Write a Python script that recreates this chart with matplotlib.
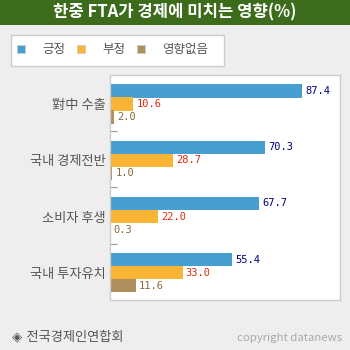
import numpy as np
import matplotlib.pyplot as plt
from matplotlib.patches import Rectangle

plt.rcParams['font.family'] = ['Noto Sans CJK KR', 'DejaVu Sans']

# 데이터
categories = ['對中 수출', '국내 경제전반', '소비자 후생', '국내 투자유치']
positive = [87.4, 70.3, 67.7, 55.4]
negative = [10.6, 28.7, 22.0, 33.0]
no_effect = [2.0, 1.0, 0.3, 11.6]
series_names = ['긍정', '부정', '영향없음']

bar_colors = ['#469fd0', '#fbb536', '#b08f5e']
text_colors = ['#000080', '#e8280c', '#8a6a3a']

W, H = 350, 350
fig = plt.figure(figsize=(3.5, 3.5), dpi=100, facecolor='#eeeeee')


def px_rect(x, y, w, h):
    """픽셀 좌표(좌상단 기준)를 figure 좌표로 변환"""
    return [x / W, 1 - (y + h) / H, w / W, h / H]


# 제목 바
fig.patches.append(Rectangle((0, 1 - 25 / H), 1, 25 / H, transform=fig.transFigure,
                             facecolor='#3b6b1b', edgecolor='none', zorder=0))
fig.text(0.5, 1 - 12.5 / H, '한중 FTA가 경제에 미치는 영향(%)', color='white',
         fontsize=12, fontweight='bold', ha='center', va='center')

# 범례 박스
lx, ly, lw, lh = 10.5, 35, 213.5, 31
fig.patches.append(Rectangle((lx / W, 1 - (ly + lh) / H), lw / W, lh / H,
                             transform=fig.transFigure, facecolor='white',
                             edgecolor='#cccccc', linewidth=1, zorder=0))
leg_x = [17, 77, 137]
for i, name in enumerate(series_names):
    fig.patches.append(Rectangle((leg_x[i] / W, 1 - 53 / H), 8 / W, 8 / H,
                                 transform=fig.transFigure, facecolor=bar_colors[i],
                                 edgecolor='#cccccc', linewidth=0.6, zorder=1))
    fig.text((leg_x[i] + 25) / W, 1 - 49.5 / H, name, color='#555555',
             fontsize=9, ha='left', va='center')

# 차트 영역
ax = fig.add_axes(px_rect(110, 75, 230, 225))
ax.set_facecolor('white')
for s in ax.spines.values():
    s.set_color('#cccccc')
    s.set_linewidth(1)

idx = np.arange(len(categories))
h = 0.235
offsets = [0.284, 0.516, 0.748]
series = [positive, negative, no_effect]
for k, vals in enumerate(series):
    ypos = idx + offsets[k]
    ax.barh(ypos, vals, height=h, color=bar_colors[k], edgecolor='none')
    for y, v in zip(ypos, vals):
        ax.text(v + 1.4, y, f'{v:.1f}', color=text_colors[k], fontsize=7.5,
                family='DejaVu Sans Mono', va='center', ha='left')

ax.set_xlim(0, 104.5)
ax.set_ylim(len(categories), 0)
ax.set_xticks([])
ax.set_yticks(idx + 0.516)
ax.set_yticklabels(categories, fontsize=9.5, color='#555555')
ax.tick_params(axis='y', length=0, pad=3)
ax.set_yticks([1, 2, 3], minor=True)
ax.tick_params(axis='y', which='minor', direction='in', length=5, color='#999999', width=0.8)

# 하단 출처
fig.text(12 / W, 1 - 337 / H, '◈ 전국경제인연합회', color='#555555', fontsize=9.5,
         ha='left', va='center', family=['DejaVu Sans', 'Noto Sans CJK KR'])
fig.text(342 / W, 1 - 338 / H, 'copyright datanews', color='#aaaaaa', fontsize=8.2,
         ha='right', va='center')

fig.savefig('out.png', dpi=100, facecolor=fig.get_facecolor())
